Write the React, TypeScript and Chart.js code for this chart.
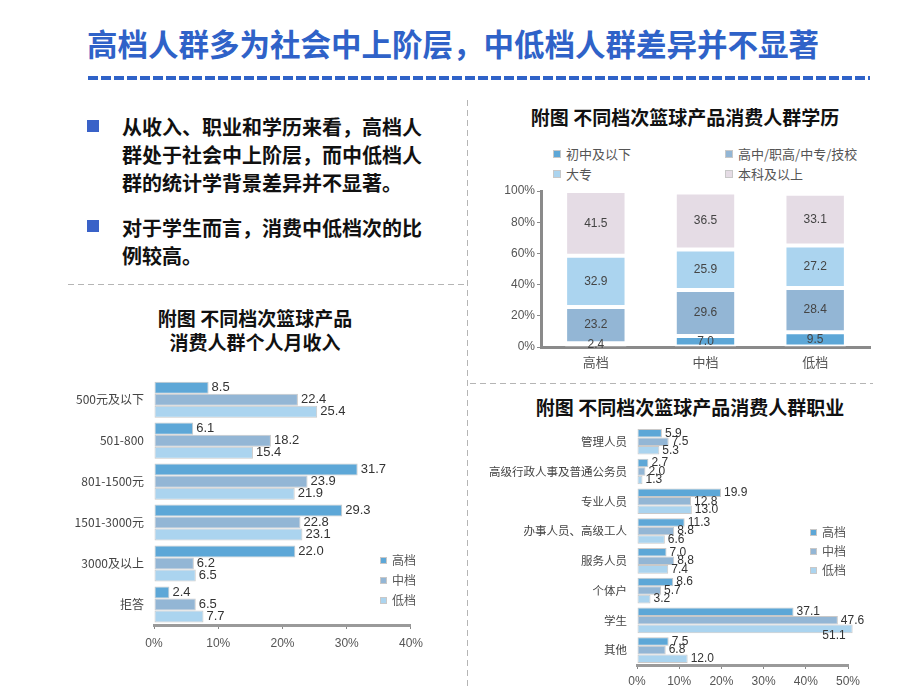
import React, { useEffect, useRef } from "react";
import { Chart, registerables } from "chart.js";

Chart.register(...registerables);

// ---------- data ----------
const mainTitle = "高档人群多为社会中上阶层，中低档人群差异并不显著";
const bullet1Lines = ["从收入、职业和学历来看，高档人", "群处于社会中上阶层，而中低档人", "群的统计学背景差异并不显著。"];
const bullet2Lines = ["对于学生而言，消费中低档次的比", "例较高。"];

const tierNames = ["高档", "中档", "低档"];

const eduTitle = "附图 不同档次篮球产品消费人群学历";
const eduCategories = ["高档", "中档", "低档"];
const eduSeriesNames = ["初中及以下", "高中/职高/中专/技校", "大专", "本科及以上"];
const eduPrimary = [2.4, 7.0, 9.5];
const eduHighSchool = [23.2, 29.6, 28.4];
const eduCollege = [32.9, 25.9, 27.2];
const eduBachelor = [41.5, 36.5, 33.1];
const eduTicks = [0, 20, 40, 60, 80, 100];

const incomeTitleLines = ["附图 不同档次篮球产品", "消费人群个人月收入"];
const incomeCategories = ["500元及以下", "501-800", "801-1500元", "1501-3000元", "3000及以上", "拒答"];
const incomeHigh = [8.5, 6.1, 31.7, 29.3, 22.0, 2.4];
const incomeMid = [22.4, 18.2, 23.9, 22.8, 6.2, 6.5];
const incomeLow = [25.4, 15.4, 21.9, 23.1, 6.5, 7.7];

const jobTitle = "附图 不同档次篮球产品消费人群职业";
const jobCategories = ["管理人员", "高级行政人事及普通公务员", "专业人员", "办事人员、高级工人", "服务人员", "个体户", "学生", "其他"];
const jobHigh = [5.9, 2.7, 19.9, 11.3, 7.0, 8.6, 37.1, 7.5];
const jobMid = [7.5, 2.0, 12.8, 8.8, 8.8, 5.7, 47.6, 6.8];
const jobLow = [5.3, 1.3, 13.0, 6.6, 7.4, 3.2, 51.1, 12.0];

// ---------- styles ----------
const FONT = "'Liberation Sans', 'Noto Sans CJK SC', sans-serif";
const CJK = "'Noto Sans CJK SC', sans-serif";
const C_HIGH = "#5DA7D7";
const C_MID = "#93B6D5";
const C_LOW = "#ABD4EF";
const C_TOP = "#E5DCE5";
const BLUE = "#2F62C8";

const valueLabels = {
  id: "valueLabels",
  afterDatasetsDraw(chart: any, _args: any, opts: any) {
    if (!opts || !opts.mode) return;
    const ctx = chart.ctx;
    ctx.save();
    ctx.font = opts.font;
    ctx.fillStyle = opts.color;
    chart.data.datasets.forEach((ds: any, di: number) => {
      const meta = chart.getDatasetMeta(di);
      meta.data.forEach((el: any, i: number) => {
        const v = ds.data[i];
        const txt = Number(v).toFixed(1);
        const p = el.getProps(["x", "y", "base", "height"], true);
        if (opts.mode === "center") {
          ctx.textAlign = "center";
          ctx.textBaseline = "middle";
          ctx.fillText(txt, p.x, (p.y + p.base) / 2);
        } else {
          const xmax = chart.scales.x.max;
          if (v > xmax) {
            ctx.textAlign = "right";
            ctx.textBaseline = "middle";
            ctx.fillText(txt, p.x - 7, p.y + 7);
          } else {
            ctx.textAlign = "left";
            ctx.textBaseline = "middle";
            ctx.fillText(txt, p.x + 3, p.y);
          }
        }
      });
    });
    ctx.restore();
  },
};

function ChartBox({ left, top, width, height, make }: any) {
  const ref = useRef<HTMLCanvasElement>(null);
  useEffect(() => {
    const c = new Chart(ref.current as HTMLCanvasElement, make());
    return () => c.destroy();
  }, []);
  return (
    <div style={{ position: "absolute", left, top, width, height }}>
      <canvas ref={ref} width={width} height={height} style={{ width, height, display: "block" }} />
    </div>
  );
}

function Text({ left, top, size, bold, color, children, lh, family, center, width }: any) {
  return (
    <div
      style={{
        position: "absolute",
        left,
        top,
        width,
        fontSize: size,
        fontWeight: bold ? 700 : 400,
        color: color || "#111",
        fontFamily: family || CJK,
        lineHeight: (lh || size) + "px",
        whiteSpace: "nowrap",
        textAlign: center ? "center" : "left",
      }}
    >
      {children}
    </div>
  );
}

function LegendItem({ x, y, color, label, size = 12, box = 8 }: any) {
  return (
    <>
      <div
        style={{
          position: "absolute",
          left: x,
          top: y - box / 2,
          width: box,
          height: box,
          background: color,
          boxSizing: "border-box",
          border: "1px solid #c8c8c8",
        }}
      />
      <Text left={x + box + 5} top={y - 8} size={size} lh={16} color="#555">
        {label}
      </Text>
    </>
  );
}

function hDash(left: number, top: number, width: number) {
  return (
    <div
      style={{
        position: "absolute",
        left,
        top,
        width,
        height: 1,
        background: "repeating-linear-gradient(to right, #b5b5b5 0 6px, transparent 6px 10px)",
      }}
    />
  );
}

const makeEdu = () => ({
  type: "bar",
  data: {
    labels: eduCategories,
    datasets: [
      { label: eduSeriesNames[0], data: eduPrimary, backgroundColor: C_HIGH },
      { label: eduSeriesNames[1], data: eduHighSchool, backgroundColor: C_MID },
      { label: eduSeriesNames[2], data: eduCollege, backgroundColor: C_LOW },
      { label: eduSeriesNames[3], data: eduBachelor, backgroundColor: C_TOP },
    ].map((d) => ({ ...d, borderColor: "#ffffff", borderWidth: 2, borderSkipped: false })),
  },
  plugins: [valueLabels],
  options: {
    responsive: false,
    animation: false,
    layout: { padding: { top: 11, right: 5, left: 0, bottom: 0 } },
    datasets: { bar: { categoryPercentage: 1, barPercentage: 0.56 } },
    plugins: {
      legend: { display: false },
      tooltip: { enabled: false },
      valueLabels: { mode: "center", font: "12px " + FONT, color: "#444" },
    },
    scales: {
      x: {
        stacked: true,
        grid: { display: false, drawTicks: false },
        border: { display: true, width: 3, color: "#8a8a8a" },
        ticks: { color: "#555", font: { size: 13, family: CJK }, padding: 7 },
        afterFit(s: any) {
          s.height = 33;
        },
      },
      y: {
        stacked: true,
        min: 0,
        max: 100,
        afterBuildTicks(s: any) {
          s.ticks = eduTicks.map((v) => ({ value: v }));
        },
        ticks: { callback: (v: any) => v + "%", color: "#555", font: { size: 12, family: FONT }, padding: 2 },
        grid: { drawOnChartArea: false, drawTicks: true, tickLength: 4, color: "#8a8a8a" },
        border: { width: 3, color: "#8a8a8a" },
        afterFit(s: any) {
          s.width = 46;
        },
      },
    },
  },
});

const makeHBar = (labels: string[], high: number[], mid: number[], low: number[], max: number, opts: any) => ({
  type: "bar",
  data: {
    labels,
    datasets: [
      { label: tierNames[0], data: high, backgroundColor: C_HIGH },
      { label: tierNames[1], data: mid, backgroundColor: C_MID },
      { label: tierNames[2], data: low, backgroundColor: C_LOW },
    ].map((d) => ({ ...d, borderColor: "#c9c9c9", borderWidth: 1, borderSkipped: false, clip: false })),
  },
  plugins: [valueLabels],
  options: {
    indexAxis: "y",
    responsive: false,
    animation: false,
    layout: { padding: { top: opts.padTop, right: opts.padRight, left: 0, bottom: 0 } },
    datasets: { bar: { categoryPercentage: opts.catPct, barPercentage: 1 } },
    plugins: {
      legend: { display: false },
      tooltip: { enabled: false },
      valueLabels: { mode: "end", font: opts.valueFont + "px " + FONT, color: "#333" },
    },
    scales: {
      x: {
        min: 0,
        max,
        ticks: {
          stepSize: 10,
          callback: (v: any) => v + "%",
          color: "#555",
          font: { size: 12, family: FONT },
          padding: opts.tickPad,
        },
        grid: { drawOnChartArea: false, drawTicks: true, tickLength: 4, color: "#888" },
        border: { width: 3, color: "#9a9a9a" },
        afterFit(s: any) {
          s.height = opts.xHeight;
        },
      },
      y: {
        grid: { display: false, drawTicks: false },
        border: { display: false },
        ticks: { color: "#444", font: { size: opts.catFont, family: CJK }, padding: 10 },
        afterFit(s: any) {
          s.width = opts.yWidth;
        },
      },
    },
  },
});

const makeIncome = () =>
  makeHBar(incomeCategories, incomeHigh, incomeMid, incomeLow, 40, {
    padTop: 10,
    padRight: 12,
    catPct: 0.88,
    valueFont: 13,
    tickPad: 7,
    xHeight: 37,
    catFont: 12,
    yWidth: 94,
  });

const makeJob = () =>
  makeHBar(jobCategories, jobHigh, jobMid, jobLow, 50, {
    padTop: 9,
    padRight: 22,
    catPct: 0.86,
    valueFont: 12,
    tickPad: 5,
    xHeight: 25,
    catFont: 11.5,
    yWidth: 167,
  });

export default function App() {
  return (
    <div
      style={{
        position: "absolute",
        left: 0,
        top: 0,
        width: 920,
        height: 690,
        background: "#fff",
        overflow: "hidden",
      }}
    >
      <Text left={87} top={26} size={30.5} lh={34} bold color={BLUE}>
        {mainTitle}
      </Text>
      <div
        style={{
          position: "absolute",
          left: 88,
          top: 76,
          width: 782,
          height: 4,
          background: `repeating-linear-gradient(to right, ${BLUE} 0 10px, transparent 10px 13px)`,
        }}
      />

      {/* bullets */}
      <div style={{ position: "absolute", left: 87, top: 120, width: 12, height: 12, background: "#3A62C8" }} />
      <div style={{ position: "absolute", left: 87, top: 220, width: 12, height: 12, background: "#3A62C8" }} />
      <Text left={122} top={113} size={20} lh={28} bold color="#111">
        {bullet1Lines.map((l, i) => (
          <div key={i}>{l}</div>
        ))}
      </Text>
      <Text left={122} top={214} size={20} lh={28} bold color="#111">
        {bullet2Lines.map((l, i) => (
          <div key={i}>{l}</div>
        ))}
      </Text>

      {/* separators */}
      {hDash(68, 284, 400)}
      {hDash(470, 383, 403)}
      <div
        style={{
          position: "absolute",
          left: 467,
          top: 100,
          width: 1,
          height: 590,
          background: "repeating-linear-gradient(to bottom, #b5b5b5 0 6px, transparent 6px 10px)",
        }}
      />

      {/* education chart */}
      <Text left={470} width={430} center top={106} size={19} lh={22} bold color="#111">
        {eduTitle}
      </Text>
      <LegendItem x={553} y={154} color={C_HIGH} label={eduSeriesNames[0]} size={13} />
      <LegendItem x={725} y={154} color={C_MID} label={eduSeriesNames[1]} size={13} />
      <LegendItem x={553} y={174} color={C_LOW} label={eduSeriesNames[2]} size={13} />
      <LegendItem x={725} y={174} color={C_TOP} label={eduSeriesNames[3]} size={13} />
      <ChartBox left={495} top={180} width={380} height={200} make={makeEdu} />

      {/* income chart */}
      <Text left={60} width={390} center top={306} size={19} lh={24} bold color="#111">
        {incomeTitleLines.map((l, i) => (
          <div key={i}>{l}</div>
        ))}
      </Text>
      <ChartBox left={60} top={362} width={370} height={300} make={makeIncome} />
      <LegendItem x={380} y={560} color={C_HIGH} label={tierNames[0]} box={7} />
      <LegendItem x={380} y={580} color={C_MID} label={tierNames[1]} box={7} />
      <LegendItem x={380} y={600} color={C_LOW} label={tierNames[2]} box={7} />

      {/* job chart */}
      <Text left={470} width={440} center top={396} size={19} lh={22} bold color="#111">
        {jobTitle}
      </Text>
      <ChartBox left={470} top={410} width={400} height={280} make={makeJob} />
      <LegendItem x={810} y={532} color={C_HIGH} label={tierNames[0]} box={7} />
      <LegendItem x={810} y={551} color={C_MID} label={tierNames[1]} box={7} />
      <LegendItem x={810} y={570} color={C_LOW} label={tierNames[2]} box={7} />
    </div>
  );
}
